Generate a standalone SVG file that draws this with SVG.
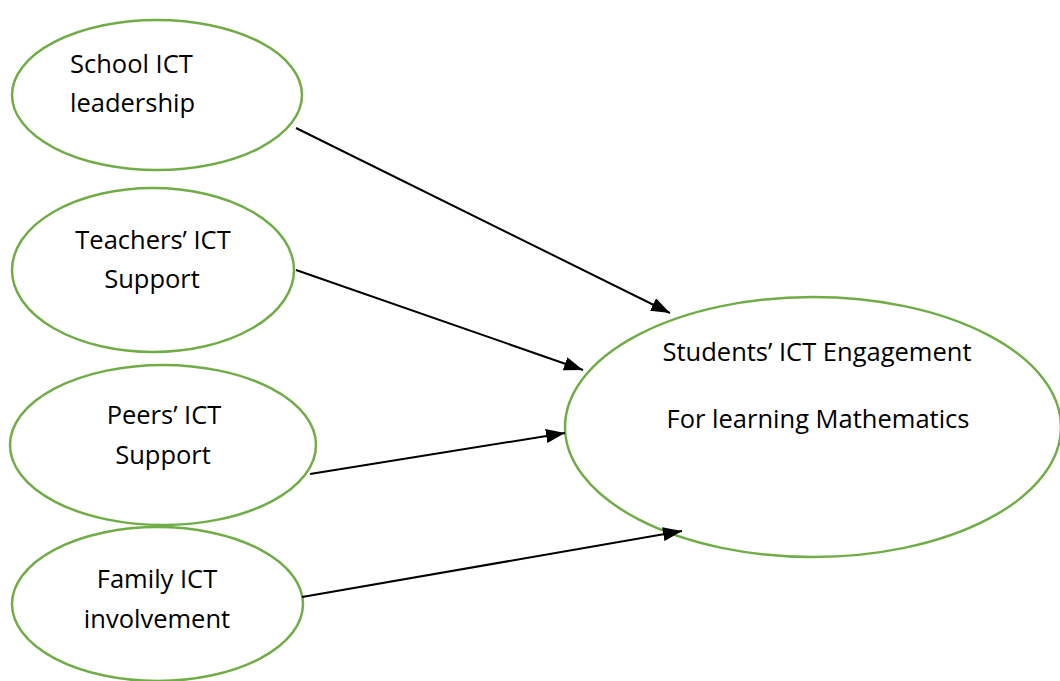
<svg xmlns="http://www.w3.org/2000/svg" width="1060" height="681" viewBox="0 0 1060 681">
  <style>
    .node ellipse { fill: #ffffff; stroke: #70ad47; stroke-width: 2.5; }
    .node text { font-family: "Open Sans", "Liberation Sans", sans-serif; font-size: 25.5px; fill: #000000; }
    .edge { stroke: #000000; stroke-width: 2; fill: none; marker-end: url(#arrow); }
  </style>
  <defs>
    <!-- filled triangular arrowhead, tip at the end of the line -->
    <marker id="arrow" viewBox="0 0 19 14" refX="19" refY="7" markerWidth="9.5" markerHeight="7" markerUnits="strokeWidth" orient="auto">
      <path d="M0,0 L19,7 L0,14 z" fill="#000000"/>
    </marker>
  </defs>
  <rect width="1060" height="681" fill="#ffffff"/>

  <g id="node-school" class="node">
    <ellipse cx="157" cy="95" rx="145" ry="75"/>
    <text x="70" y="73">School ICT</text>
    <text x="70" y="112">leadership</text>
  </g>

  <g id="node-teachers" class="node">
    <ellipse cx="153" cy="270" rx="141" ry="82"/>
    <text x="153" y="249" text-anchor="middle">Teachers’ ICT</text>
    <text x="152" y="288" text-anchor="middle">Support</text>
  </g>

  <g id="node-peers" class="node">
    <ellipse cx="163" cy="445" rx="153" ry="80"/>
    <text x="164" y="424" text-anchor="middle">Peers’ ICT</text>
    <text x="163" y="464" text-anchor="middle">Support</text>
  </g>

  <g id="node-family" class="node">
    <ellipse cx="157.5" cy="604" rx="145.5" ry="77"/>
    <text x="157" y="588" text-anchor="middle">Family ICT</text>
    <text x="157" y="628" text-anchor="middle">involvement</text>
  </g>

  <g id="node-engagement" class="node">
    <ellipse cx="813" cy="427" rx="248" ry="130"/>
    <text x="817" y="361" text-anchor="middle">Students’ ICT Engagement</text>
    <text x="818" y="428" text-anchor="middle">For learning Mathematics</text>
  </g>

  <g id="connectors">
    <line class="edge" x1="296" y1="128" x2="670" y2="313"/>
    <line class="edge" x1="296" y1="270" x2="583" y2="370"/>
    <line class="edge" x1="310" y1="474" x2="565" y2="433"/>
    <line class="edge" x1="302" y1="597" x2="682" y2="531"/>
  </g>
</svg>
